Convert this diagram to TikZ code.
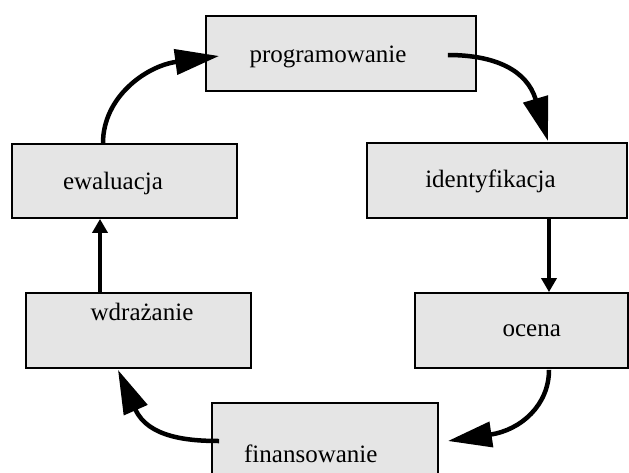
\documentclass[tikz,border=0pt]{standalone}
\usepackage{fontspec}
\setmainfont{Liberation Serif}
\usetikzlibrary{arrows.meta,calc}
\begin{document}
\begin{tikzpicture}[x=1pt,y=-1pt,
  stage/.style={draw=black, line width=1.8pt, fill=black!10, rectangle,
    inner sep=0pt, minimum height=75pt},
  stagename/.style={anchor=base, inner sep=0pt, font=\fontsize{25}{30}\selectfont},
  flow/.style={line width=4.5pt, -{Triangle[length=44pt,width=25pt]}},
  steparrow/.style={line width=4.5pt, -{Triangle[length=14pt,width=15pt]}}]
\useasboundingbox (0,0) rectangle (629,472);

% stage boxes
\node[stage, minimum width=270pt] (prog)  at (341,53.5)   {};
\node[stage, minimum width=260pt] (ident) at (497,180.5)  {};
\node[stage, minimum width=213pt] (ocena) at (521.5,330.5) {};
\node[stage, minimum width=226pt] (fin)   at (325,440.5)  {};
\node[stage, minimum width=225pt] (wdr)   at (138.5,330.5) {};
\node[stage, minimum width=225pt, minimum height=74pt] (ewal) at (124.5,181) {};

% stage names
\node[stagename] (tprog)  at (328,62)    {programowanie};
\node[stagename] (tident) at (490.5,187.3) {identyfikacja};
\node[stagename] (tocena) at (531.7,336.7) {ocena};
\node[stagename] (tfin)   at (310.8,462.7) {finansowanie};
\node[stagename] (twdr)   at (142,320.7)  {wdrażanie};
\node[stagename] (tewal)  at (113,189.3)  {ewaluacja};

% cycle connectors
\draw[flow] ($(prog.east)+(-29,1.5)$) .. controls (495,55) and (527,70) .. ($(ident.north)+(51,-1)$);
\draw[steparrow] ($(ident.south)+(52,0)$) -- ($(ocena.north)+(27.5,0)$);
\draw[flow] ($(ocena.south)+(27.5,1)$) .. controls (549,405) and (521,430) .. ($(fin.east)+(9,0.5)$);
\draw[flow] ($(fin.west)+(8,0.5)$) .. controls (190,441) and (148,438) .. ($(wdr.south)+(-20.5,1)$);
\draw[steparrow] ($(wdr.north)+(-38.5,0)$) -- ($(ewal.south)+(-24.5,0)$);
\draw[flow] ($(ewal.north)+(-21.5,0)$) .. controls (103,97) and (146,66) .. ($(prog.west)+(14,2.5)$);
\end{tikzpicture}
\end{document}
